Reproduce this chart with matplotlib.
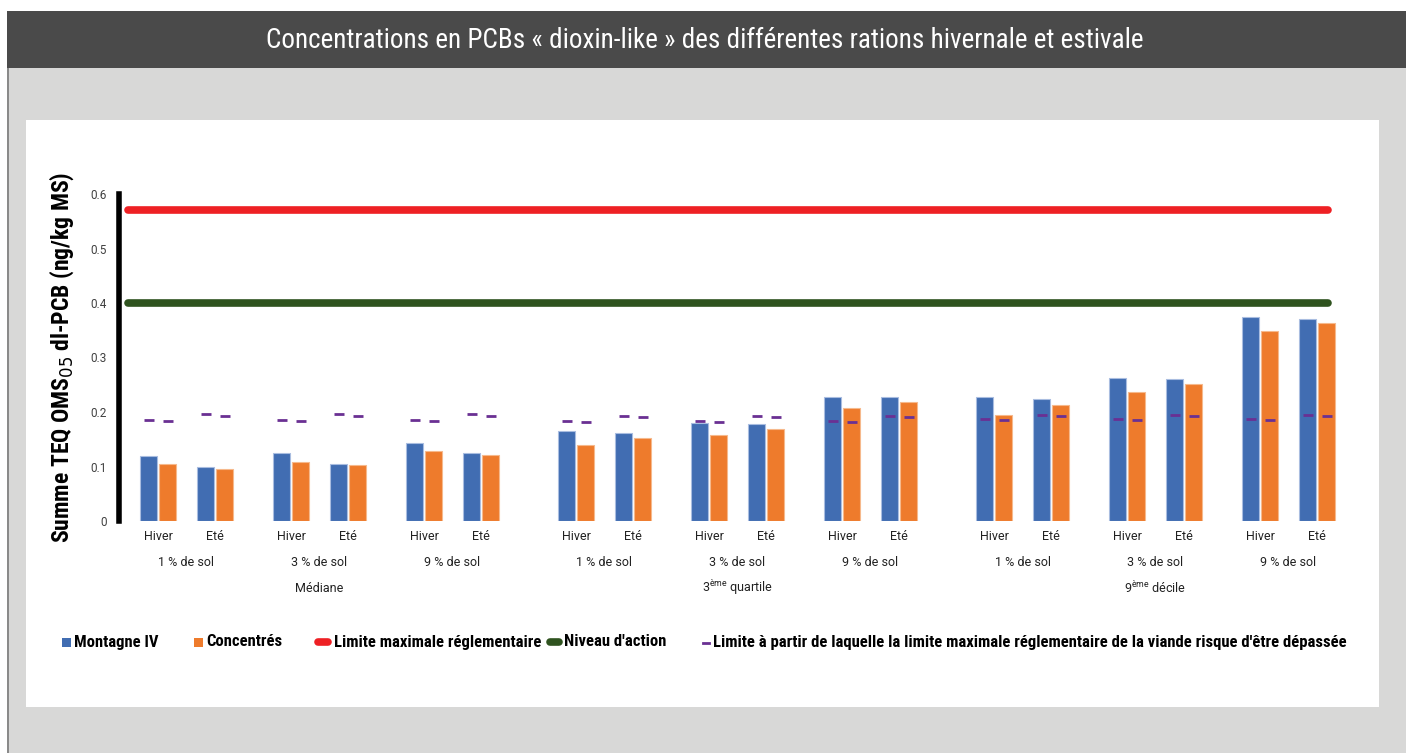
import matplotlib
matplotlib.use("Agg")
import matplotlib.pyplot as plt
from matplotlib.patches import Rectangle
from matplotlib.lines import Line2D

# ---------------- data ----------------
stats = ["Médiane", r"3$^{\mathregular{ème}}$ quartile", r"9$^{\mathregular{ème}}$ décile"]
soils = ["1 % de sol", "3 % de sol", "9 % de sol"]
seasons = ["Hiver", "Eté"]

montagne = [0.120, 0.100, 0.125, 0.105, 0.144, 0.124,
            0.165, 0.162, 0.180, 0.178, 0.228, 0.228,
            0.228, 0.223, 0.263, 0.260, 0.374, 0.371]
concentres = [0.105, 0.096, 0.109, 0.103, 0.128, 0.121,
              0.139, 0.153, 0.158, 0.168, 0.207, 0.218,
              0.194, 0.213, 0.236, 0.252, 0.349, 0.363]
seuil_montagne = [0.185, 0.196, 0.185, 0.196, 0.185, 0.196,
                  0.183, 0.193, 0.183, 0.193, 0.183, 0.193,
                  0.187, 0.194, 0.187, 0.194, 0.187, 0.194]
seuil_concentres = [0.183, 0.193, 0.183, 0.193, 0.183, 0.193,
                    0.182, 0.191, 0.182, 0.191, 0.182, 0.191,
                    0.185, 0.193, 0.185, 0.193, 0.185, 0.193]
limite_max = 0.57
niveau_action = 0.40

yticks = [0, 0.1, 0.2, 0.3, 0.4, 0.5, 0.6]
ytick_labels = ["0", "0.1", "0.2", "0.3", "0.4", "0.5", "0.6"]

title = "Concentrations en PCBs « dioxin-like » des différentes rations hivernale et estivale"
ylabel = "Summe TEQ OMS$_{05}$ dl-PCB (ng/kg MS)"
leg_labels = ["Montagne IV", "Concentrés", "Limite maximale réglementaire",
              "Niveau d'action",
              "Limite à partir de laquelle la limite maximale réglementaire de la viande risque d'être dépassée"]

# ---------------- colours ----------------
C_BLUE = "#416db2"
C_ORANGE = "#ee7b2c"
C_RED = "#ee2024"
C_GREEN = "#2f531f"
C_PURPLE = "#6a3093"
NARROW = ["Roboto Condensed", "Liberation Sans Narrow", "Roboto", "DejaVu Sans"]
plt.rcParams["font.family"] = ["Roboto", "DejaVu Sans"]

# ---------------- layout positions ----------------
pos = []
x = 0
for s in range(3):
    for l in range(3):
        for k in range(2):
            pos.append(x)
            x += 3 if k == 0 else 4
    x += 1

W, H = 1411, 753
fig = plt.figure(figsize=(W / 100, H / 100), dpi=100)
fig.patch.set_facecolor("white")

def px(x0, y0, w, h, **kw):
    fig.patches.append(Rectangle((x0 / W, 1 - (y0 + h) / H), w / W, h / H,
                                 transform=fig.transFigure, zorder=-5, **kw))

px(7, 68, 1399, 685, facecolor="#d8d8d7", edgecolor="none")
px(7, 68, 1.5, 685, facecolor="#8a8a8a", edgecolor="none")
px(7, 11, 1399, 57, facecolor="#4a4a4a", edgecolor="none")
px(26, 120, 1353, 587, facecolor="white", edgecolor="none")

fig.text(705 / W, 1 - 41 / H, title, color="white", fontsize=19.5,
         family=NARROW, ha="center", va="center")

# ---------------- axes ----------------
ax_l, ax_r, ax_t, ax_b = 119, 1340, 194, 521
ax = fig.add_axes([ax_l / W, 1 - ax_b / H, (ax_r - ax_l) / W, (ax_b - ax_t) / H])
ax.set_facecolor("none")
u = 19.0
ax.set_xlim((ax_l - 158) / u, (ax_r - 158) / u)
ax.set_ylim(0, 0.6)

xb = [p - 0.5 for p in pos]
xo = [p + 0.5 for p in pos]
ax.bar(xb, montagne, width=0.9, color=C_BLUE, edgecolor="#a9bde0", linewidth=0.8, zorder=2)
ax.bar(xo, concentres, width=0.9, color=C_ORANGE, edgecolor="#f6b98c", linewidth=0.8, zorder=2)

x0l = (128 - 158) / u
x1l = (1328 - 158) / u
ax.plot([x0l, x1l], [limite_max, limite_max], color=C_RED, lw=5.5,
        solid_capstyle="round", zorder=3)
ax.plot([x0l, x1l], [niveau_action, niveau_action], color=C_GREEN, lw=5.5,
        solid_capstyle="round", zorder=3)
ax.plot(xb, seuil_montagne, ls="none", marker="_", ms=7, mew=2, color=C_PURPLE, zorder=4)
ax.plot(xo, seuil_concentres, ls="none", marker="_", ms=7, mew=2, color=C_PURPLE, zorder=4)

for sp in ["top", "right", "bottom"]:
    ax.spines[sp].set_visible(False)
ax.spines["left"].set_linewidth(4)
ax.spines["left"].set_color("black")
ax.set_yticks(yticks)
ax.set_yticklabels(ytick_labels, fontsize=8.5, color="#404040")
ax.tick_params(axis="y", length=0, pad=9)
ax.set_xticks([])

# category labels
trans = ax.get_xaxis_transform()
def fy(ypix):
    return -(ypix - ax_b) / (ax_b - ax_t)

for i, p in enumerate(pos):
    ax.text(p, fy(537), seasons[i % 2], transform=trans, ha="center", va="center",
            fontsize=9, color="#222222")
for j in range(9):
    c = (pos[2 * j] + pos[2 * j + 1]) / 2
    ax.text(c, fy(562), soils[j % 3], transform=trans, ha="center", va="center",
            fontsize=9, color="#222222")
for s in range(3):
    c = (pos[6 * s] + pos[6 * s + 5]) / 2
    ax.text(c, fy(588), stats[s], transform=trans, ha="center", va="center",
            fontsize=9, color="#222222")

fig.text(62 / W, 1 - 357 / H, ylabel, rotation=90, ha="center", va="center",
         fontsize=17, fontweight="bold", family=NARROW)

# ---------------- legend ----------------
ly = 1 - 642 / H
lfs = 12
def ltext(xp, s):
    fig.text(xp / W, ly, s, fontsize=lfs, fontweight="bold", family=NARROW, va="center")

fig.patches.append(Rectangle((62 / W, ly - 4.5 / H), 9 / W, 9 / H, transform=fig.transFigure,
                             facecolor=C_BLUE, edgecolor="none"))
ltext(74, leg_labels[0])
fig.patches.append(Rectangle((194 / W, ly - 4.5 / H), 9 / W, 9 / H, transform=fig.transFigure,
                             facecolor=C_ORANGE, edgecolor="none"))
ltext(206, leg_labels[1])
fig.lines.append(Line2D([318 / W, 328 / W], [ly, ly], transform=fig.transFigure,
                        color=C_RED, lw=5.5, solid_capstyle="round"))
ltext(334, leg_labels[2])
fig.lines.append(Line2D([550 / W, 559 / W], [ly, ly], transform=fig.transFigure,
                        color=C_GREEN, lw=5.5, solid_capstyle="round"))
ltext(564, leg_labels[3])
fig.lines.append(Line2D([703 / W, 709 / W], [ly - 1 / H, ly - 1 / H], transform=fig.transFigure,
                        color=C_PURPLE, lw=2))
ltext(713, leg_labels[4])

fig.savefig("out.png", dpi=100, facecolor=fig.get_facecolor())
